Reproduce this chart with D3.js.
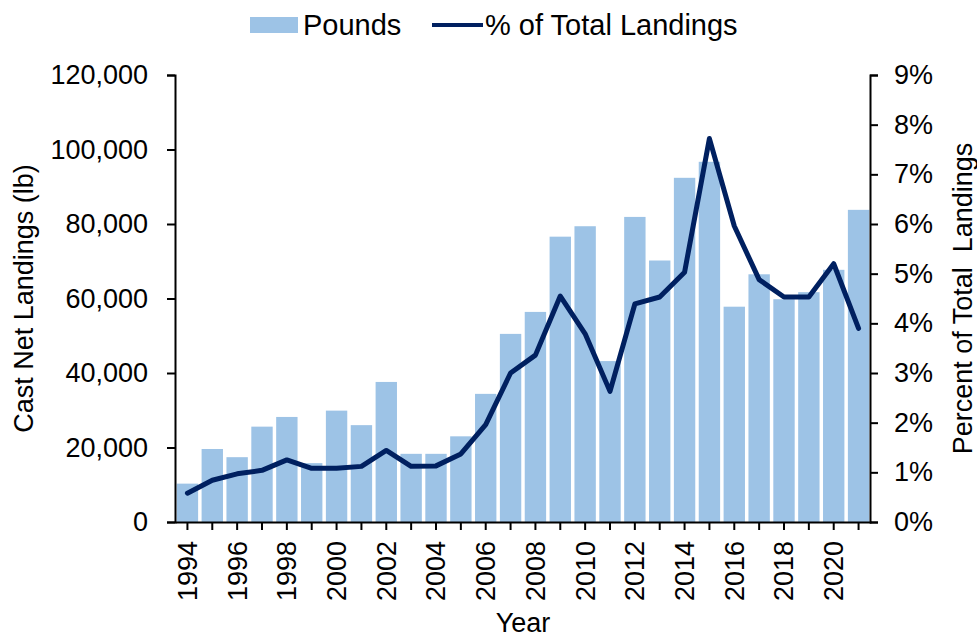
<!DOCTYPE html>
<html>
<head>
<meta charset="utf-8">
<script src="https://cdn.jsdelivr.net/npm/d3@7"></script>
<style>
  body { margin: 0; background: #fff; }
  svg text { font-family: "Liberation Sans", Arial, sans-serif; fill: #000; }
</style>
</head>
<body>
<div class="canvas"></div>
<script>
// data
let years = [1994, 1995, 1996, 1997, 1998, 1999, 2000, 2001, 2002, 2003, 2004, 2005, 2006, 2007,
    2008, 2009, 2010, 2011, 2012, 2013, 2014, 2015, 2016, 2017, 2018, 2019, 2020, 2021]
let pounds = [10300, 19600, 17400, 25600, 28200, 15800, 29900, 26000, 37600, 18300, 18300, 23000, 34400, 50500,
    56400, 76600, 79400, 43200, 81900, 70200, 92400, 96700, 57800, 66500, 59800, 61700, 67700, 83800]
let pctTotal = [0.58, 0.84, 0.97, 1.04, 1.25, 1.08, 1.08, 1.12, 1.44, 1.12, 1.13, 1.37, 1.96, 3.0,
    3.36, 4.55, 3.79, 2.63, 4.39, 4.53, 5.03, 7.72, 5.96, 4.88, 4.53, 4.53, 5.2, 3.9]
let poundTicks = [0, 20000, 40000, 60000, 80000, 100000, 120000]
let pctTicks = [0, 1, 2, 3, 4, 5, 6, 7, 8, 9]

let width = 977,
    height = 639,
    plotLeft = 175,
    plotRight = 871,
    plotTop = 75,
    plotBottom = 522,
    fontSize = 27,
    barColor = '#9dc3e6',
    lineColor = '#002060'

let data = years.map((y, i) => ({ year: y, lb: pounds[i], pct: pctTotal[i] }))

let svg = d3.select('.canvas').append('svg')
    .attr('width', width)
    .attr('height', height)

let x = d3.scaleBand().domain(years).range([plotLeft, plotRight]).paddingInner(0.14).paddingOuter(0.07)
let yL = d3.scaleLinear().domain([0, 120000]).range([plotBottom, plotTop])
let yR = d3.scaleLinear().domain([0, 9]).range([plotBottom, plotTop])

// BARS
svg.selectAll('.bar')
    .data(data)
    .enter().append('rect').classed('bar', true)
    .attr('x', d => x(d.year))
    .attr('width', x.bandwidth())
    .attr('y', d => yL(d.lb))
    .attr('height', d => yL(0) - yL(d.lb))
    .attr('fill', barColor)

// LINE
let line = d3.line()
    .x(d => x(d.year) + x.bandwidth() / 2)
    .y(d => yR(d.pct))
svg.append('path')
    .datum(data)
    .attr('d', line)
    .attr('fill', 'none')
    .attr('stroke', lineColor)
    .attr('stroke-width', 5)
    .attr('stroke-linejoin', 'round')
    .attr('stroke-linecap', 'round')

// AXES
function styleAxis(g) {
    g.selectAll('path, line').attr('stroke', '#000').attr('stroke-width', 2)
    g.selectAll('text').style('font-size', fontSize + 'px').attr('fill', '#000')
}

svg.append('g')
    .attr('transform', `translate(${plotLeft}, 0)`)
    .call(d3.axisLeft(yL).tickValues(poundTicks).tickSize(8).tickSizeOuter(8).tickPadding(19)
        .tickFormat(d3.format(',')))
    .call(styleAxis)

svg.append('g')
    .attr('transform', `translate(${plotRight - 1}, 0)`)
    .call(d3.axisRight(yR).tickValues(pctTicks).tickSize(8).tickSizeOuter(8).tickPadding(16)
        .tickFormat(d => d + '%'))
    .call(styleAxis)

let xAxis = svg.append('g')
    .attr('transform', `translate(0, ${plotBottom})`)
    .call(d3.axisBottom(x).tickSize(8).tickSizeOuter(0)
        .tickFormat(d => d % 2 === 0 ? d : ''))
    .call(styleAxis)
xAxis.selectAll('text')
    .attr('transform', 'rotate(-90)')
    .attr('text-anchor', 'end')
    .attr('x', -19)
    .attr('y', 0)
    .attr('dy', '0.35em')

// TITLES
svg.append('text')
    .attr('transform', `translate(33, ${(plotTop + plotBottom) / 2}) rotate(-90)`)
    .attr('text-anchor', 'middle')
    .style('font-size', fontSize + 'px')
    .text('Cast Net Landings (lb)')
svg.append('text')
    .attr('transform', `translate(972, ${(plotTop + plotBottom) / 2}) rotate(-90)`)
    .attr('text-anchor', 'middle')
    .style('font-size', fontSize + 'px')
    .style('white-space', 'pre')
    .text('Percent of Total  Landings')
svg.append('text')
    .attr('x', 523)
    .attr('y', 632)
    .attr('text-anchor', 'middle')
    .style('font-size', fontSize + 'px')
    .text('Year')

// LEGEND
let legend = svg.append('g')
legend.append('rect')
    .attr('x', 250).attr('y', 17).attr('width', 48).attr('height', 16)
    .attr('fill', barColor)
legend.append('text')
    .attr('x', 303).attr('y', 35)
    .style('font-size', '29px')
    .text('Pounds')
legend.append('line')
    .attr('x1', 432).attr('x2', 483).attr('y1', 25).attr('y2', 25)
    .attr('stroke', lineColor).attr('stroke-width', 4)
legend.append('text')
    .attr('x', 485).attr('y', 35)
    .style('font-size', '29px')
    .text('% of Total Landings')
</script>
</body>
</html>
